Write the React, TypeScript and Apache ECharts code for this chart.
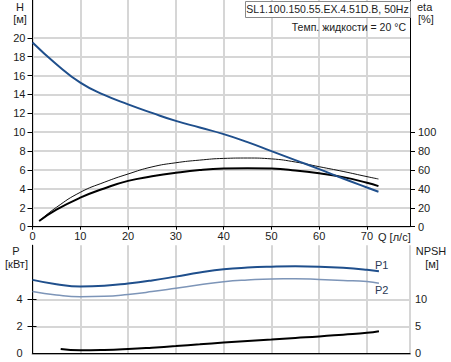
import React, { useEffect, useRef } from 'react';
import * as echarts from 'echarts';

// ---------- data ----------
const Q_H = [0, 5, 10, 15, 20, 25, 30, 35, 40, 45, 50, 55, 60, 65, 70, 72.4];
const H_VALUES = [19.5, 17.2, 15.25, 13.95, 12.95, 12.05, 11.2, 10.5, 9.8, 8.95, 8.0, 7.05, 6.1, 5.1, 4.15, 3.7];

const Q_ETA = [1.4, 5, 10, 15, 20, 25, 30, 35, 40, 45, 50, 55, 60, 65, 70, 72.4];
const ETA_THICK = [6, 18, 30.7, 40.5, 48.5, 53.3, 57.1, 60, 61.6, 62, 61.5, 59.5, 56.5, 52.5, 46.5, 43];
const ETA_THIN = [6, 20.5, 36.4, 47, 55.8, 63.3, 67.7, 70.5, 72.3, 72.7, 71.8, 68.5, 63.5, 58.5, 53, 50.5];

const Q_P = [0, 5, 10, 15, 20, 25, 30, 35, 40, 45, 50, 55, 60, 65, 70, 72.5];
const P1_VALUES = [5.44, 5.12, 4.95, 5.0, 5.17, 5.4, 5.68, 5.98, 6.22, 6.35, 6.42, 6.45, 6.42, 6.33, 6.18, 6.07];
const P2_VALUES = [4.58, 4.32, 4.19, 4.22, 4.36, 4.57, 4.82, 5.08, 5.3, 5.43, 5.51, 5.52, 5.47, 5.4, 5.32, 5.19];

const Q_NPSH = [5.9, 10, 15, 20, 25, 30, 35, 40, 45, 50, 55, 60, 65, 70, 72.5];
const NPSH_VALUES = [0.79, 0.55, 0.62, 0.8, 1.05, 1.34, 1.66, 2.0, 2.3, 2.57, 2.85, 3.12, 3.45, 3.79, 4.1];

const Q_TICKS = [0, 10, 20, 30, 40, 50, 60, 70];
const H_TICKS = [0, 2, 4, 6, 8, 10, 12, 14, 16, 18, 20];
const ETA_TICKS = [0, 20, 40, 60, 80, 100];
const P_TICKS = [0, 2, 4];
const NPSH_TICKS = [0, 5, 10];

const TITLE = 'SL1.100.150.55.EX.4.51D.B, 50Hz';
const TEMP_TEXT = 'Темп. жидкости = 20 °C';

const zip = (xs: number[], ys: number[]) => xs.map((x, i) => [x, ys[i]]);

const FONT = '"Liberation Sans", Arial, sans-serif';
const TXT = '#1c1c1c';
const GRID = '#d6d6d6';
const BLUE = '#1f4f8c';

export default function App() {
  const ref = useRef<HTMLDivElement>(null);
  useEffect(() => {
    const chart = echarts.init(ref.current!, null, { renderer: 'svg' });
    const lbl = (custom: number[], margin: number) => ({
      customValues: custom,
      color: TXT,
      fontSize: 11,
      fontFamily: FONT,
      margin,
    });
    const axisLineBlack = { show: true, lineStyle: { color: '#000', width: 1 } };
    const split = { show: true, lineStyle: { color: GRID, width: 2 } };
    const option: any = {
      animation: false,
      textStyle: { fontFamily: FONT },
      grid: [
        { left: 32.5, top: 0, width: 377.5, height: 226.7 },
        { left: 32.5, top: 245.3, width: 377.5, height: 108 },
      ],
      xAxis: [
        {
          type: 'value', gridIndex: 0, min: 0, max: 79, interval: 10,
          axisLine: axisLineBlack,
          axisTick: { show: true, customValues: Q_TICKS, length: 3, lineStyle: { color: '#000' } },
          axisLabel: lbl(Q_TICKS, 4),
          splitLine: split,
        },
        {
          type: 'value', gridIndex: 1, min: 0, max: 79, interval: 10,
          axisLine: { show: true, lineStyle: { color: '#aaa', width: 2 } },
          axisTick: { show: false },
          axisLabel: { show: false },
          splitLine: split,
        },
        {
          type: 'value', gridIndex: 1, min: 0, max: 79, position: 'top',
          axisLine: axisLineBlack,
          axisTick: { show: false },
          axisLabel: { show: false },
          splitLine: { show: false },
        },
      ],
      yAxis: [
        {
          type: 'value', gridIndex: 0, min: 0, max: 24, interval: 2,
          axisLine: axisLineBlack,
          axisTick: { show: true, customValues: H_TICKS, length: 5, lineStyle: { color: '#000' } },
          axisLabel: lbl(H_TICKS, 7),
          splitLine: split,
        },
        {
          type: 'value', gridIndex: 0, min: 0, max: 240, interval: 20, position: 'right',
          axisLine: axisLineBlack,
          axisTick: { show: true, customValues: ETA_TICKS, length: 5, lineStyle: { color: '#000' } },
          axisLabel: lbl(ETA_TICKS, 8),
          splitLine: { show: false },
        },
        {
          type: 'value', gridIndex: 1, min: 0, max: 8, interval: 2,
          axisLine: axisLineBlack,
          axisTick: { show: true, customValues: [2, 4], length: 5, lineStyle: { color: '#000' } },
          axisLabel: lbl(P_TICKS, 10),
          splitLine: split,
        },
        {
          type: 'value', gridIndex: 1, min: 0, max: 20, interval: 5, position: 'right',
          axisLine: axisLineBlack,
          axisTick: { show: true, customValues: [5, 10], length: 4, lineStyle: { color: '#000' } },
          axisLabel: lbl(NPSH_TICKS, 5),
          splitLine: { show: false },
        },
      ],
      series: [
        {
          type: 'line', name: 'eta2', xAxisIndex: 0, yAxisIndex: 1, smooth: true, showSymbol: false,
          data: zip(Q_ETA, ETA_THIN), lineStyle: { color: '#111', width: 1 }, z: 3,
        },
        {
          type: 'line', name: 'eta1', xAxisIndex: 0, yAxisIndex: 1, smooth: true, showSymbol: false,
          data: zip(Q_ETA, ETA_THICK), lineStyle: { color: '#000', width: 2 }, z: 3,
        },
        {
          type: 'line', name: 'H', xAxisIndex: 0, yAxisIndex: 0, smooth: true, showSymbol: false,
          data: zip(Q_H, H_VALUES), lineStyle: { color: BLUE, width: 2 }, z: 4,
        },
        {
          type: 'line', name: 'P2', xAxisIndex: 1, yAxisIndex: 2, smooth: true, showSymbol: false,
          data: zip(Q_P, P2_VALUES), lineStyle: { color: '#7d95b8', width: 1.5 }, z: 3,
          endLabel: { show: true, formatter: 'P2', color: '#2b3a55', fontSize: 11, fontFamily: FONT, offset: [-12, 7] },
        },
        {
          type: 'line', name: 'P1', xAxisIndex: 1, yAxisIndex: 2, smooth: true, showSymbol: false,
          data: zip(Q_P, P1_VALUES), lineStyle: { color: BLUE, width: 2 }, z: 4,
          endLabel: { show: true, formatter: 'P1', color: '#2b3a55', fontSize: 11, fontFamily: FONT, offset: [-12, -6] },
        },
        {
          type: 'line', name: 'NPSH', xAxisIndex: 1, yAxisIndex: 3, smooth: true, showSymbol: false,
          data: zip(Q_NPSH, NPSH_VALUES), lineStyle: { color: '#000', width: 2 }, z: 4,
        },
      ],
      graphic: [
        { type: 'rect', left: 245, top: 1, shape: { width: 165, height: 16 }, style: { fill: '#fff', stroke: '#8a8a8a', lineWidth: 1 }, z: 10 },
        { type: 'text', x: 327.5, y: 9, style: { text: TITLE, fill: TXT, font: `10.5px ${FONT}`, align: 'center', verticalAlign: 'middle' }, z: 11 },
        { type: 'text', x: 406, y: 27, style: { text: TEMP_TEXT, fill: TXT, font: `10.5px ${FONT}`, align: 'right', verticalAlign: 'middle' }, z: 11 },
        { type: 'text', x: 20, y: 7, style: { text: 'H', fill: TXT, font: `11px ${FONT}`, align: 'center', verticalAlign: 'middle' } },
        { type: 'text', x: 20, y: 19, style: { text: '[м]', fill: TXT, font: `11px ${FONT}`, align: 'center', verticalAlign: 'middle' } },
        { type: 'text', x: 417, y: 7, style: { text: 'eta', fill: TXT, font: `11px ${FONT}`, align: 'left', verticalAlign: 'middle' } },
        { type: 'text', x: 418, y: 19, style: { text: '[%]', fill: TXT, font: `11px ${FONT}`, align: 'left', verticalAlign: 'middle' } },
        { type: 'text', x: 378, y: 237, style: { text: 'Q [л/с]', fill: TXT, font: `11px ${FONT}`, align: 'left', verticalAlign: 'middle' } },
        { type: 'text', x: 16, y: 251, style: { text: 'P', fill: TXT, font: `11px ${FONT}`, align: 'center', verticalAlign: 'middle' } },
        { type: 'text', x: 16.5, y: 264, style: { text: '[кВт]', fill: TXT, font: `11px ${FONT}`, align: 'center', verticalAlign: 'middle' } },
        { type: 'text', x: 431, y: 251, style: { text: 'NPSH', fill: TXT, font: `11px ${FONT}`, align: 'center', verticalAlign: 'middle' } },
        { type: 'text', x: 432, y: 264, style: { text: '[м]', fill: TXT, font: `11px ${FONT}`, align: 'center', verticalAlign: 'middle' } },
      ],
    };
    chart.setOption(option);
    return () => chart.dispose();
  }, []);
  return <div ref={ref} style={{ position: 'absolute', left: 0, top: 0, width: 451, height: 362 }} />;
}
